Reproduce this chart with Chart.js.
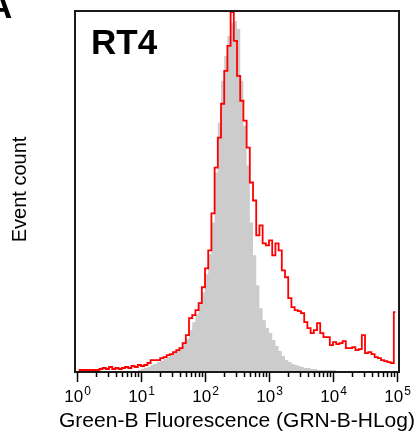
<!DOCTYPE html>
<html>
<head>
<meta charset="utf-8">
<script src="https://cdn.jsdelivr.net/npm/chart.js"></script>
<style>
  html, body { margin: 0; padding: 0; background: #fff; }
  #wrap { width: 417px; height: 436px; }
</style>
</head>
<body>
<div id="wrap"><canvas id="histo" width="417" height="436"></canvas></div>
<script>
// channel grid: 20 log bins per decade, 10^0 .. 10^5
const binsPerDecade = 20;
const decades = [0, 1, 2, 3, 4, 5];

// Event counts per bin (relative units)
const sampleCounts = [
    2, 2, 2, 2, 2, 2, 2, 3, 4, 3,
    5, 3, 4, 3, 4, 5, 4, 6, 5, 7,
    6, 7, 9, 12, 12, 12, 14, 15, 17, 18,
    20, 22, 24, 29, 37, 54, 57, 62, 69, 85,
    104, 122, 159, 205, 235, 269, 302, 327, 361, 332,
    297, 272, 252, 225, 190, 172, 137, 147, 129, 127,
    132, 117, 129, 122, 102, 95, 74, 65, 62, 61,
    59, 50, 44, 39, 42, 49, 39, 35, 35, 27,
    30, 28, 29, 31, 24, 24, 25, 22, 23, 37,
    19, 20, 18, 15, 14, 12, 11, 10, 9, 60
];
const controlCounts = [
    0, 0, 0, 0, 0, 0, 0, 0, 0, 0,
    0, 0, 0, 0, 0, 1, 1, 1, 1, 2,
    3, 4, 5, 7, 8, 10, 11, 13, 15, 17,
    19, 21, 24, 28, 33, 42, 50, 58, 68, 80,
    98, 118, 150, 200, 250, 292, 317, 337, 350, 352,
    344, 292, 247, 207, 150, 117, 87, 64, 52, 44,
    39, 32, 26, 21, 16, 12, 10, 8, 7, 6,
    5, 4, 4, 3, 3, 2, 2, 2, 2, 2,
    2, 1, 1, 1, 1, 1, 1, 1, 1, 1,
    1, 1, 1, 1, 1, 1, 1, 1, 1, 1
];

const binCenters = sampleCounts.map((_, i) => Math.pow(10, (i + 0.5) / binsPerDecade));
const toPoints = (arr) => arr.map((v, i) => ({ x: binCenters[i], y: v }));

const font = "'Liberation Sans', Arial, sans-serif";

const framePlugin = {
    id: 'frame',
    afterDraw(chart) {
        const ctx = chart.ctx;
        const a = chart.chartArea;
        const xs = chart.scales.x;
        ctx.save();

        // box around plot
        ctx.strokeStyle = '#1a1a1a';
        ctx.lineWidth = 2;
        ctx.strokeRect(a.left, a.top, a.right - a.left, a.bottom - a.top);

        // ticks: minor 2..9, major at decades
        ctx.lineWidth = 1.5;
        ctx.strokeStyle = '#000';
        decades.forEach((d) => {
            for (let m = 1; m <= 9; m++) {
                if (d === 5 && m > 1) break;
                const px = Math.round(xs.getPixelForValue(m * Math.pow(10, d))) + 0.5;
                const len = m === 1 ? 10 : 5;
                ctx.beginPath();
                ctx.moveTo(px, a.bottom);
                ctx.lineTo(px, a.bottom + len);
                ctx.stroke();
            }
        });

        // decade labels 10^n
        ctx.fillStyle = '#000';
        ctx.textBaseline = 'alphabetic';
        decades.forEach((d) => {
            const px = xs.getPixelForValue(Math.pow(10, d));
            ctx.font = '17px ' + font;
            const wBase = ctx.measureText('10').width;
            ctx.font = '12px ' + font;
            const wExp = ctx.measureText(String(d)).width;
            const left = px - (wBase + wExp) / 2;
            ctx.font = '17px ' + font;
            ctx.textAlign = 'left';
            ctx.fillText('10', left, 402);
            ctx.font = '12px ' + font;
            ctx.fillText(String(d), left + wBase + 1, 395);
        });

        // axis titles
        ctx.font = '21px ' + font;
        ctx.textAlign = 'center';
        ctx.fillText('Green-B Fluorescence (GRN-B-HLog)', (a.left + a.right) / 2, 427);

        ctx.save();
        ctx.translate(26, (a.top + a.bottom) / 2 - 2);
        ctx.rotate(-Math.PI / 2);
        ctx.font = '20px ' + font;
        ctx.fillText('Event count', 0, 0);
        ctx.restore();

        // panel labels
        ctx.font = 'bold 35px ' + font;
        ctx.textAlign = 'left';
        ctx.fillText('RT4', 91, 54);
        ctx.fillText('A', -13, 18);

        ctx.restore();
    }
};

new Chart(document.getElementById('histo'), {
    type: 'line',
    data: {
        datasets: [
            {
                label: 'RT4',
                data: toPoints(sampleCounts),
                stepped: 'middle',
                borderColor: '#ff0000',
                borderWidth: 1.8,
                pointRadius: 0,
                fill: false,
                order: 0
            },
            {
                label: 'Control',
                data: toPoints(controlCounts),
                stepped: 'middle',
                borderWidth: 0,
                borderColor: 'rgba(0,0,0,0)',
                backgroundColor: '#cccccc',
                pointRadius: 0,
                fill: 'origin',
                order: 1
            }
        ]
    },
    options: {
        responsive: false,
        animation: false,
        devicePixelRatio: 1,
        layout: { padding: { left: 75, right: 18, top: 11, bottom: 64 } },
        plugins: {
            legend: { display: false },
            tooltip: { enabled: false }
        },
        scales: {
            x: {
                type: 'logarithmic',
                display: false,
                min: 0.93,
                max: 107400
            },
            y: {
                type: 'linear',
                display: false,
                min: 0,
                max: 362
            }
        }
    },
    plugins: [framePlugin]
});
</script>
</body>
</html>
